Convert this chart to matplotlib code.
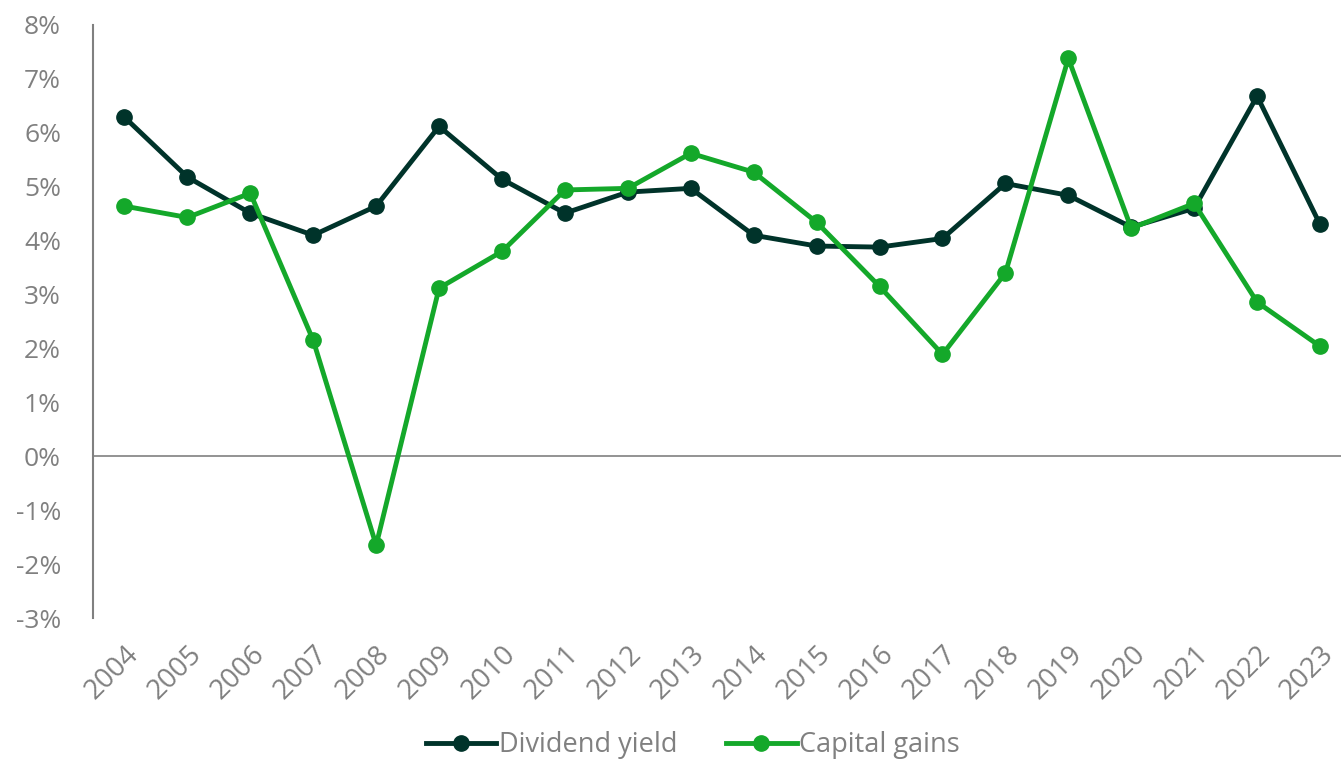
import matplotlib.pyplot as plt
from matplotlib.ticker import FuncFormatter

plt.rcParams['font.family'] = ['Open Sans', 'DejaVu Sans']

years = [str(y) for y in range(2004, 2024)]
dividend_yield = [6.29, 5.18, 4.51, 4.10, 4.64, 6.12, 5.14, 4.51, 4.90, 4.97,
                  4.10, 3.90, 3.88, 4.04, 5.06, 4.84, 4.25, 4.60, 6.68, 4.30]
capital_gains = [4.64, 4.43, 4.88, 2.15, -1.65, 3.12, 3.80, 4.94, 4.97, 5.62,
                 5.27, 4.34, 3.15, 1.89, 3.40, 7.38, 4.23, 4.69, 2.86, 2.04]

dark = '#00332A'
green = '#14A82A'
grey = '#808080'

fig = plt.figure(figsize=(13.41, 7.60), dpi=100)
ax = fig.add_axes([93 / 1341, 1 - 618 / 760, (1351.5 - 93) / 1341, (618 - 25) / 760])

x = list(range(len(years)))
ax.plot(x, dividend_yield, color=dark, lw=3.5, marker='o', ms=11, label='Dividend yield')
ax.plot(x, capital_gains, color=green, lw=3.5, marker='o', ms=11, label='Capital gains')
ax.axhline(0, color=grey, lw=1.2, zorder=0)

ax.set_xlim(-0.5, len(years) - 0.5)
ax.set_ylim(-3, 8)
ax.set_yticks(range(-3, 9))
ax.yaxis.set_major_formatter(FuncFormatter(lambda v, p: f'{v:.0f}%'))
ax.set_xticks(x)
ax.set_xticklabels(years, rotation=45, ha='right', rotation_mode='anchor')

for s in ['top', 'right', 'bottom']:
    ax.spines[s].set_visible(False)
ax.spines['left'].set_color(grey)
ax.spines['left'].set_linewidth(1.5)
ax.tick_params(axis='y', length=0, pad=23, labelsize=19, labelcolor=grey)
ax.tick_params(axis='x', length=0, pad=16, labelsize=20, labelcolor=grey)

fig.legend(loc='center', bbox_to_anchor=(693 / 1341, 1 - 745 / 760), ncol=2,
           frameon=False, fontsize=19.5, labelcolor=grey, handlelength=2.6,
           handletextpad=0.1, columnspacing=1.8)

fig.savefig('out.png', dpi=100)
